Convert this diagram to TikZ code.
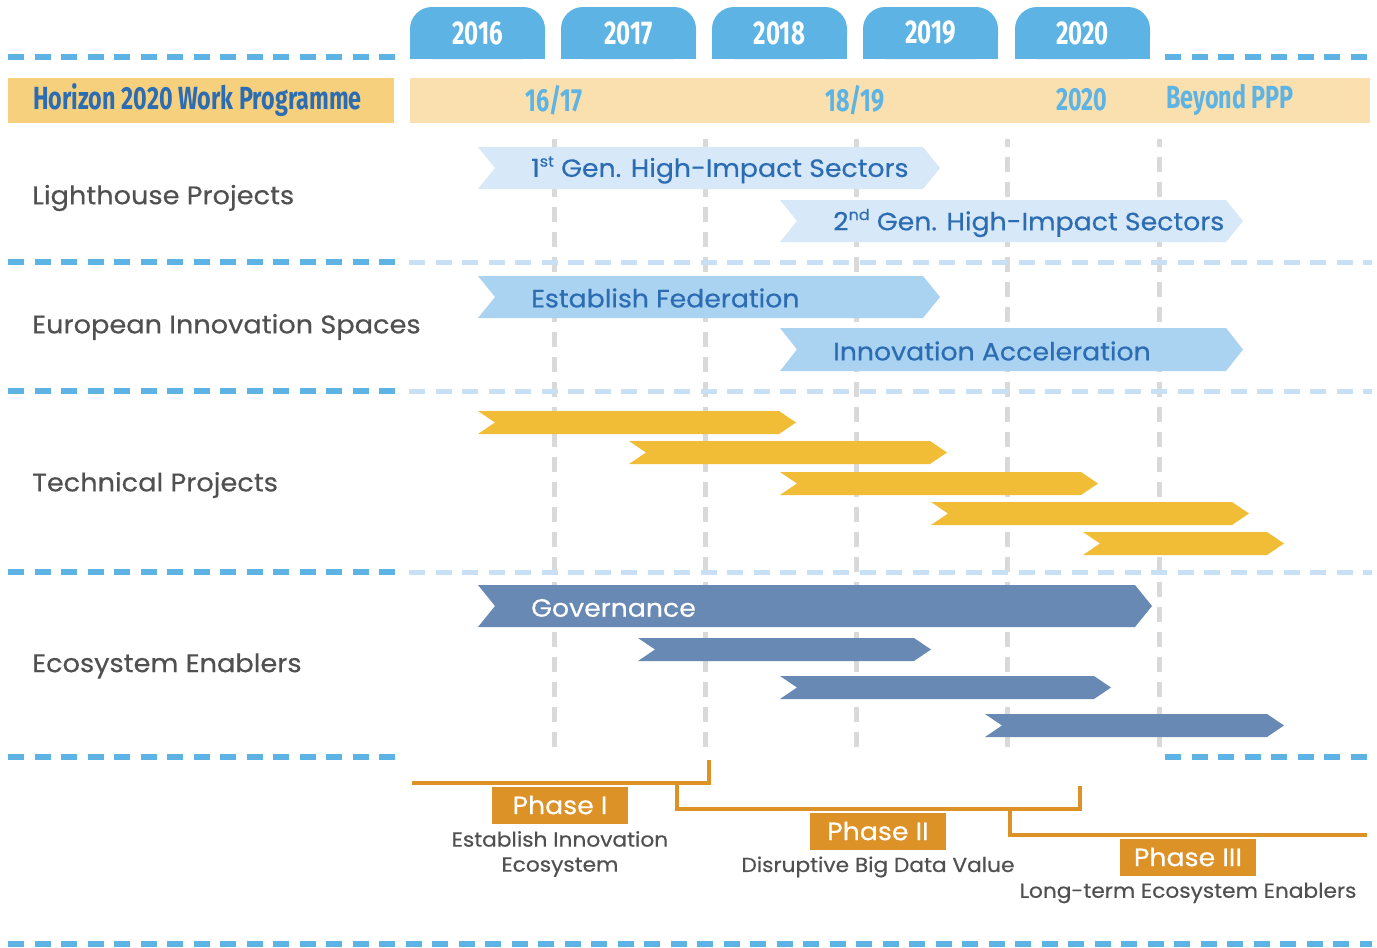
\documentclass[tikz,border=0pt]{standalone}
\usepackage{fontspec}
\setmainfont{Poppins}[FakeStretch=1.07,FakeBold=0.4]
\newfontfamily\cond[FakeStretch=0.73]{Fira Sans}
\definecolor{tabblue}{HTML}{5DB3E4}
\definecolor{lightdash}{HTML}{C8E0F5}
\definecolor{hdrorange}{HTML}{F6D07C}
\definecolor{hdrlight}{HTML}{F9E0AE}
\definecolor{darkblue}{HTML}{2B6CB3}
\definecolor{chevA}{HTML}{D7E8F8}
\definecolor{chevB}{HTML}{AAD2F1}
\definecolor{chevY}{HTML}{F2BD36}
\definecolor{chevS}{HTML}{6889B4}
\definecolor{phaseorange}{HTML}{DC9226}
\definecolor{greytext}{HTML}{505050}
\definecolor{gridgrey}{HTML}{D9D9D9}
\newcommand\chevron[6]{% x1, x2, ytop, ybot, depth, colour
  \fill[#6] (#1,#3) -- ({#2-#5},#3) -- (#2,{(#3+#4)/2}) -- ({#2-#5},#4) -- (#1,#4) -- ({#1+#5},{(#3+#4)/2}) -- cycle;}
\newcommand\supscr[1]{\raisebox{0.75ex}{\fontsize{15}{15}\selectfont #1}}
\begin{document}
\begin{tikzpicture}[x=1pt,y=-1pt,
  bluedash/.style={draw=tabblue,line width=5.3pt,dash pattern=on 16pt off 10.5pt},
  lightdashline/.style={draw=lightdash,line width=5pt,dash pattern=on 16pt off 10.5pt},
  gridline/.style={draw=gridgrey,line width=5pt,dash pattern=on 15pt off 10pt,dash phase=7.3pt},
  tablabel/.style={text=white,font=\cond\bfseries\fontsize{33}{33}\selectfont,inner sep=0pt},
  hdrlabel/.style={text=tabblue,font=\cond\bfseries\fontsize{32}{32}\selectfont,inner sep=0pt},
  rowlabel/.style={text=greytext,font=\fontsize{25.4}{25.4}\selectfont,anchor=west,inner sep=0pt},
  chevtext/.style={text=darkblue,font=\fontsize{25}{25}\selectfont,anchor=west,inner sep=0pt},
  phaseline/.style={draw=phaseorange,line width=4pt},
  phasebox/.style={fill=phaseorange,text=white,font=\fontsize{25}{25}\selectfont,minimum width=136pt,minimum height=37pt,inner sep=0pt},
  phasedesc/.style={text=greytext,font=\fontsize{20.3}{25}\selectfont,align=center,inner sep=0pt}]
\useasboundingbox[fill=white] (0,0) rectangle (1377,948);

% vertical grid
\foreach \x in {554,705,856,1007,1159}
  \draw[gridline] (\x,139) -- (\x,747);

% horizontal separators
\draw[bluedash] (8,57) -- (395,57);
\draw[bluedash] (1165,57) -- (1372,57);
\foreach \y in {262,391,572}{
  \draw[bluedash] (8,\y) -- (395,\y);
  \draw[lightdashline] (409,\y) -- (1372,\y);
}
\draw[bluedash] (8,757) -- (395,757);
\draw[bluedash] (1165,757) -- (1372,757);
\draw[bluedash] (8,944) -- (1372,944);

% year tabs
\foreach \x/\yr in {410/2016,561/2017,712/2018,863/2019,1015/2020}{
  \fill[tabblue] (\x,35) rectangle ({\x+135},59);
  \fill[tabblue,rounded corners=22pt] (\x,7) rectangle ({\x+135},59);
  \node[tablabel] (tab\yr) at ({\x+67.5},33) {\yr};
}

% header band
\fill[hdrorange] (8,78) rectangle (394,123);
\fill[hdrlight] (410,78) rectangle (1370,123);
\node[hdrlabel,text=darkblue] (h2020) at (197.5,100) {Horizon 2020 Work Programme};
\node[hdrlabel] (wp1617) at (554,100) {16/17};
\node[hdrlabel] (wp1819) at (855,100) {18/19};
\node[hdrlabel] (wp2020) at (1082,100) {2020};
\node[hdrlabel,anchor=west] (beyond) at (1166,100) {Beyond PPP};

% row labels
\node[rowlabel] (lh) at (32,198) {Lighthouse Projects};
\node[rowlabel] (eis) at (32,327) {European Innovation Spaces};
\node[rowlabel] (tp) at (32,485) {Technical Projects};
\node[rowlabel] (ee) at (32,666) {Ecosystem Enablers};

% lighthouse
\chevron{478}{940}{147}{189}{17}{chevA}
\chevron{780}{1243}{200}{242}{17}{chevA}
\node[chevtext] (gen1) at (531,170) {1\supscr{st} Gen. High-Impact Sectors};
\node[chevtext] (gen2) at (833,223) {2\supscr{nd} Gen. High-Impact Sectors};

% innovation spaces
\chevron{478}{940}{276}{318}{17}{chevB}
\chevron{780}{1243}{328}{371}{17}{chevB}
\node[chevtext] (fed) at (531,298) {Establish Federation};
\node[chevtext] (acc) at (833,351) {Innovation Acceleration};

% technical projects
\chevron{478}{796}{411}{434}{17}{chevY}
\chevron{629}{947}{441}{464}{17}{chevY}
\chevron{780}{1098}{472}{495}{17}{chevY}
\chevron{931}{1249}{502}{525}{17}{chevY}
\chevron{1083}{1284}{532}{555}{17}{chevY}

% ecosystem enablers
\chevron{478}{1152}{585}{627}{17}{chevS}
\chevron{638}{931}{638}{661}{17}{chevS}
\chevron{780}{1111}{676}{699}{17}{chevS}
\chevron{985}{1284}{714}{737}{17}{chevS}
\node[chevtext,text=white] (gov) at (531,608) {Governance};

% phases
\draw[phaseline] (412,783) -- (709,783) -- (709,760);
\draw[phaseline] (677,783) -- (677,809) -- (1080,809) -- (1080,786);
\draw[phaseline] (1010,809) -- (1010,835) -- (1367,835);
\node[phasebox] (ph1) at (560,805) {Phase I};
\node[phasebox] (ph2) at (878,831) {Phase II};
\node[phasebox] (ph3) at (1188,857) {Phase III};
\node[phasedesc] (d1) at (560,854) {Establish Innovation\\Ecosystem};
\node[phasedesc] (d2) at (878,867) {Disruptive Big Data Value};
\node[phasedesc] (d3) at (1188,893) {Long-term Ecosystem Enablers};
\end{tikzpicture}
\end{document}
